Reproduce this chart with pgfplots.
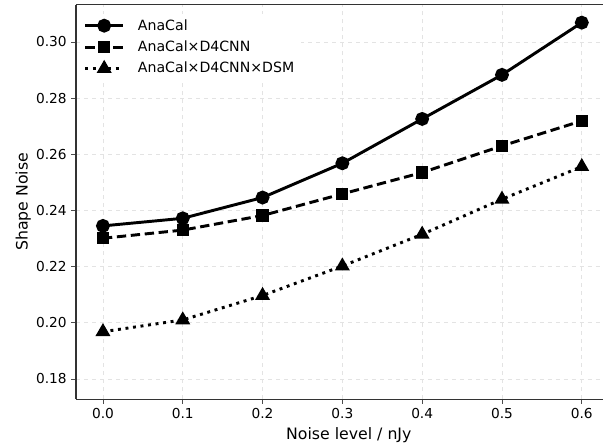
\documentclass[border=0pt]{standalone}
\usepackage{pgfplots}
\pgfplotsset{compat=1.18}
\usepackage{fontspec}
\setmainfont{DejaVu Sans}

\begin{document}
\begin{tikzpicture}
\begin{axis}[
  scale only axis,
  width=409.5pt, height=296pt,
  xmin=-0.0338, xmax=0.65,
  ymin=0.1728, ymax=0.3133,
  axis y line*=left,
  xtick={0,0.1,...,0.6},
  ytick={0.18,0.20,...,0.30},
  xticklabel style={/pgf/number format/.cd,fixed,fixed zerofill,precision=1},
  yticklabel style={/pgf/number format/.cd,fixed,fixed zerofill,precision=2},
  /pgf/number format/assume math mode=true,
  tick align=outside, xtick pos=bottom, ytick pos=left,
  major tick length=3.5pt,
  tick style={black!70, line width=0.6pt},
  axis line style={black!80, line width=0.8pt},
  grid=major,
  major grid style={dashed, gray!22, line width=0.5pt},
  xlabel={Noise level / nJy},
  ylabel={Shape Noise},
  ylabel style={yshift=-3pt},
  font=\fontsize{10.3}{12}\selectfont,
  label style={font=\fontsize{11.8}{14}\selectfont},
  legend style={at={(0.0065,0.977)}, anchor=north west, draw=none, fill=white,
    font=\fontsize{10.6}{12}\selectfont, row sep=2.5pt, column sep=8pt},
  legend cell align=left,
  legend image code/.code={
    \draw[mark repeat=2, mark phase=2, #1] plot coordinates {(0cm,0cm) (0.5cm,0cm) (1cm,0cm)};
  },
  every axis plot/.append style={black, line width=2.2pt},
]
\addplot[solid, mark=*, mark size=4.1pt, mark options={solid}] coordinates {
  (0.0,0.2345) (0.1,0.2372) (0.2,0.2446) (0.3,0.2568) (0.4,0.2726) (0.5,0.2883) (0.6,0.3069)
};
\addlegendentry{AnaCal}
\addplot[dash pattern=on 7pt off 3.5pt, mark=square*, mark size=3.5pt, mark options={solid}] coordinates {
  (0.0,0.2301) (0.1,0.2330) (0.2,0.2382) (0.3,0.2459) (0.4,0.2535) (0.5,0.2630) (0.6,0.2719)
};
\addlegendentry{AnaCal×D4CNN}
\addplot[dash pattern=on 2.2pt off 3.5pt, mark=triangle*, mark size=4.3pt, mark options={solid}] coordinates {
  (0.0,0.1968) (0.1,0.2010) (0.2,0.2097) (0.3,0.2202) (0.4,0.2315) (0.5,0.2440) (0.6,0.2556)
};
\addlegendentry{AnaCal×D4CNN×DSM}
\coordinate (ll) at (axis cs:-0.129,0.15686);
\coordinate (ur) at (axis cs:0.6266,0.31496);
\end{axis}
\pgfresetboundingbox
\useasboundingbox (ll) rectangle (ur);
\end{tikzpicture}
\end{document}
